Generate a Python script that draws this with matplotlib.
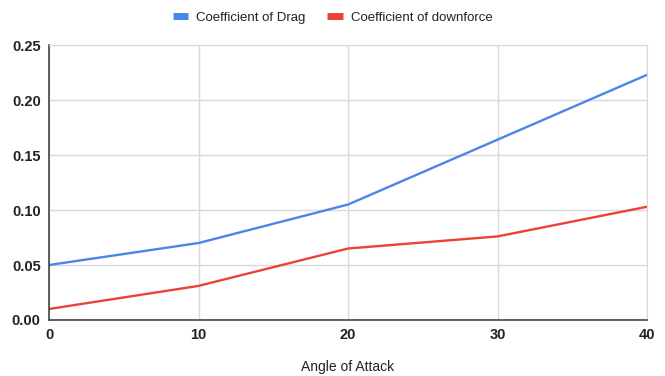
import matplotlib
matplotlib.use("Agg")
import matplotlib.pyplot as plt
from matplotlib.lines import Line2D

# data
angle = [0, 10, 20, 30, 40]
drag = [0.050, 0.070, 0.105, 0.164, 0.223]
downforce = [0.010, 0.031, 0.065, 0.076, 0.103]
y_ticks = [0.00, 0.05, 0.10, 0.15, 0.20, 0.25]
series_names = ["Coefficient of Drag", "Coefficient of downforce"]

BLUE = "#4a86e8"
RED = "#ea4335"

plt.rcParams["font.family"] = ["Liberation Sans", "DejaVu Sans"]

fig = plt.figure(figsize=(6.65, 3.76), dpi=100)
ax = fig.add_axes([0.0737, 0.149, 0.8993, 0.731])

ax.plot(angle, drag, color=BLUE, lw=1.7, solid_joinstyle="round")
ax.plot(angle, downforce, color=RED, lw=1.7, solid_joinstyle="round")

ax.set_xlim(0, 40)
ax.set_ylim(0, 0.25)
ax.set_xticks(angle)
ax.set_yticks(y_ticks)
ax.set_yticklabels([f"{v:.2f}" for v in y_ticks])
ax.tick_params(length=0, labelsize=10.5, colors="#222222", pad=6)
for lab in ax.get_xticklabels() + ax.get_yticklabels():
    lab.set_fontweight("bold")

ax.grid(True, color="#d9d9d9", lw=1)
ax.set_axisbelow(True)
for side in ["top", "right"]:
    ax.spines[side].set_color("#d9d9d9")
for side in ["left", "bottom"]:
    ax.spines[side].set_color("#444444")
    ax.spines[side].set_linewidth(1.2)

ax.set_xlabel("Angle of Attack", fontsize=10, color="#222222", labelpad=13)

handles = [Line2D([], [], color=c, lw=5, solid_capstyle="butt") for c in (BLUE, RED)]
fig.legend(handles, series_names, loc="center", bbox_to_anchor=(0.5, 0.953),
           ncol=2, frameon=False, fontsize=9.5, handlelength=1.2,
           columnspacing=1.6, handletextpad=0.6, labelcolor="#222222")

fig.savefig("out.png", dpi=100)
